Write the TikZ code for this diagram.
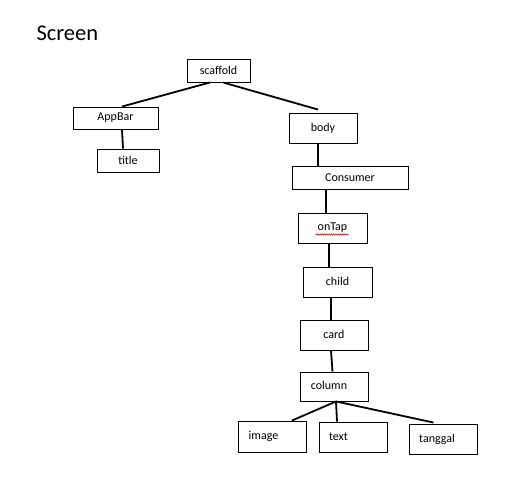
\documentclass[tikz,border=0pt]{standalone}
\usepackage{fontspec}
\setmainfont{Carlito}
\usetikzlibrary{decorations.pathmorphing}
\begin{document}
\begin{tikzpicture}[x=1pt,y=-1pt,
  box/.style={draw=black,line width=0.9pt,rectangle,inner sep=0pt,font=\fontsize{12}{14}\selectfont},
  conn/.style={draw=black,line width=1.8pt}]
\useasboundingbox[fill=white] (0,0) rectangle (522,491);
\node[anchor=west,font=\fontsize{22.5}{26}\selectfont] (screen) at (33,33) {Screen};
\node[box,minimum width=63pt,minimum height=23pt] (scaffold) at (218.5,70.5) {\raisebox{-2pt}{scaffold}};
\node[box,minimum width=85pt,minimum height=22pt] (appbar) at (115.5,118) {\raisebox{-1.5pt}{AppBar}};
\node[box,minimum width=62pt,minimum height=23pt] (title) at (128,160.5) {\raisebox{-2.5pt}{title}};
\node[box,minimum width=68pt,minimum height=30pt] (body) at (323,128) {body};
\node[box,minimum width=116pt,minimum height=23pt] (consumer) at (350,177.5) {\raisebox{-2.5pt}{Consumer}};
\node[box,minimum width=69pt,minimum height=30pt] (ontap) at (332.5,228) {onTap};
\node[box,minimum width=69pt,minimum height=30pt] (child) at (337.5,282) {\raisebox{1.5pt}{child}};
\node[box,minimum width=68pt,minimum height=30pt] (card) at (334,335) {\raisebox{1pt}{card}};
\node[box,minimum width=68pt,minimum height=29pt,label={[font=\fontsize{12}{14}\selectfont,anchor=center,xshift=-5pt,yshift=1.5pt]center:column}] (column) at (334,386.5) {};
\node[box,minimum width=68pt,minimum height=31pt,label={[font=\fontsize{12}{14}\selectfont,anchor=center,xshift=-8.5pt]center:image}] (image) at (272,436.5) {};
\node[box,minimum width=68pt,minimum height=30pt,label={[font=\fontsize{12}{14}\selectfont,anchor=center,xshift=-14.5pt]center:text}] (text) at (353,437) {};
\node[box,minimum width=68pt,minimum height=30pt,label={[font=\fontsize{12}{14}\selectfont,anchor=center,xshift=-6.5pt]center:tanggal}] (tanggal) at (443.5,439) {};
\draw[red,line width=0.6pt,decorate,decoration={zigzag,amplitude=0.7pt,segment length=2.2pt}] ([xshift=-17pt,yshift=-6.5pt]ontap.center) -- ([xshift=16pt,yshift=-6.5pt]ontap.center);
\draw[conn] ([xshift=-8.5pt]scaffold.south) -- ([xshift=6.5pt]appbar.north);
\draw[conn] ([xshift=4.5pt]scaffold.south) -- ([xshift=-5pt,yshift=3pt]body.north);
\draw[conn] ([xshift=6.5pt]appbar.south) -- ([xshift=-5pt]title.north);
\draw[conn] ([xshift=-5pt]body.south) -- ([xshift=-32pt]consumer.north);
\draw[conn] ([xshift=-24pt]consumer.south) -- ([xshift=-6.5pt]ontap.north);
\draw[conn] ([xshift=-3.5pt]ontap.south) -- ([xshift=-8.5pt]child.north);
\draw[conn] ([xshift=-6.5pt]child.south) -- ([xshift=-3pt]card.north);
\draw[conn] ([xshift=-3pt]card.south) -- ([xshift=-1.5pt]column.north);
\draw[conn] ([xshift=2pt]column.south) -- ([xshift=20pt]image.north);
\draw[conn] ([xshift=2pt]column.south) -- ([xshift=-16pt]text.north);
\draw[conn] ([xshift=2pt]column.south) -- ([xshift=-10pt,yshift=1pt]tanggal.north);
\end{tikzpicture}
\end{document}
